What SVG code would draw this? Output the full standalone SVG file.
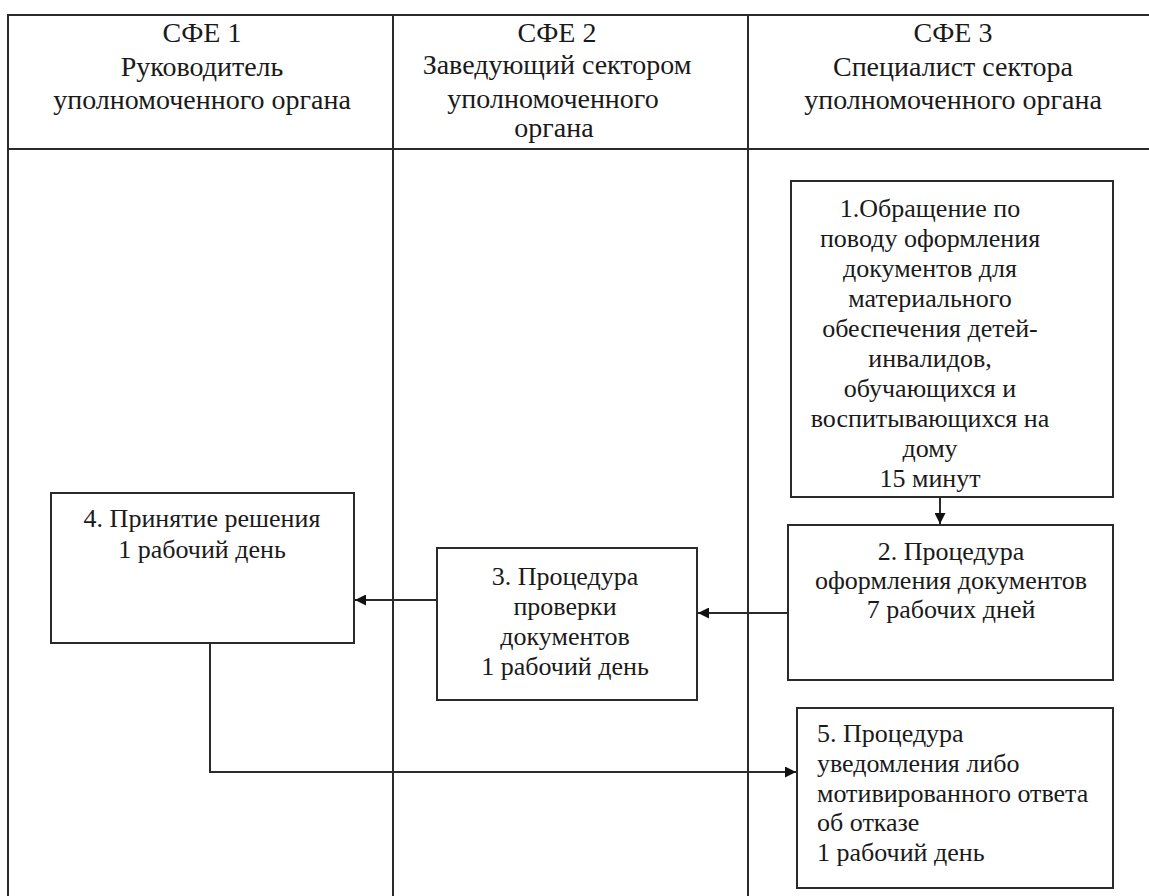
<svg xmlns="http://www.w3.org/2000/svg" width="1149" height="896" viewBox="0 0 1149 896">
<defs>
<marker id="ah" viewBox="0 0 10 10" refX="10" refY="5" markerWidth="11" markerHeight="11" markerUnits="userSpaceOnUse" orient="auto">
<path d="M0,0 L10,5 L0,10 z" fill="#111"/>
</marker>
</defs>
<rect x="0" y="0" width="1149" height="896" fill="#fff"/>
<g id="table">
<path fill="none" stroke="#2a2a2a" stroke-width="2" d="M8,900 V15 H1152 M8,149 H1152 M393,15 V900 M748,15 V900"/>
<g font-family="Times New Roman, serif" font-size="28" fill="#1a1a1a" text-anchor="middle">
<text x="202" y="42">СФЕ 1</text>
<text x="202" y="76">Руководитель</text>
<text x="202" y="109">уполномоченного органа</text>
<text x="557" y="42">СФЕ 2</text>
<text x="557" y="74">Заведующий сектором</text>
<text x="553" y="108">уполномоченного</text>
<text x="554" y="137">органа</text>
<text x="953" y="42">СФЕ 3</text>
<text x="953" y="76">Специалист сектора</text>
<text x="953" y="109">уполномоченного органа</text>
</g>
</g>
<g id="node1">
<rect fill="#fff" stroke="#2a2a2a" stroke-width="2" x="791" y="181" width="322" height="316"/>
<g font-family="Times New Roman, serif" font-size="26" fill="#1a1a1a" text-anchor="middle">
<text x="930" y="217">1.Обращение по</text>
<text x="930" y="247">поводу оформления</text>
<text x="930" y="277">документов для</text>
<text x="930" y="307">материального</text>
<text x="930" y="337">обеспечения детей-</text>
<text x="930" y="367">инвалидов,</text>
<text x="930" y="397">обучающихся и</text>
<text x="930" y="427">воспитывающихся на</text>
<text x="930" y="457">дому</text>
<text x="930" y="487">15 минут</text>
</g>
</g>
<g id="node2">
<rect fill="#fff" stroke="#2a2a2a" stroke-width="2" x="788" y="525" width="325" height="155"/>
<g font-family="Times New Roman, serif" font-size="26" fill="#1a1a1a" text-anchor="middle">
<text x="951" y="560">2. Процедура</text>
<text x="951" y="589">оформления документов</text>
<text x="951" y="618">7 рабочих дней</text>
</g>
</g>
<g id="node3">
<rect fill="#fff" stroke="#2a2a2a" stroke-width="2" x="437" y="548" width="260" height="152"/>
<g font-family="Times New Roman, serif" font-size="26" fill="#1a1a1a" text-anchor="middle">
<text x="565" y="585">3. Процедура</text>
<text x="565" y="615">проверки</text>
<text x="565" y="645">документов</text>
<text x="565" y="675">1 рабочий день</text>
</g>
</g>
<g id="node4">
<rect fill="#fff" stroke="#2a2a2a" stroke-width="2" x="51" y="493" width="303" height="150"/>
<g font-family="Times New Roman, serif" font-size="26" fill="#1a1a1a" text-anchor="middle">
<text x="202" y="527">4. Принятие решения</text>
<text x="202" y="558">1 рабочий день</text>
</g>
</g>
<g id="node5">
<rect fill="#fff" stroke="#2a2a2a" stroke-width="2" x="797" y="708" width="316" height="180"/>
<g font-family="Times New Roman, serif" font-size="26" fill="#1a1a1a">
<text x="817" y="742">5. Процедура</text>
<text x="817" y="772">уведомления либо</text>
<text x="817" y="802">мотивированного ответа</text>
<text x="817" y="831">об отказе</text>
<text x="817" y="861">1 рабочий день</text>
</g>
</g>
<g id="connectors" fill="none" stroke="#2a2a2a" stroke-width="2">
<path d="M940,497 V524" marker-end="url(#ah)"/>
<path d="M788,613 H698" marker-end="url(#ah)"/>
<path d="M437,600 H355" marker-end="url(#ah)"/>
<path d="M210,643 V772 H796" marker-end="url(#ah)"/>
</g>
</svg>
